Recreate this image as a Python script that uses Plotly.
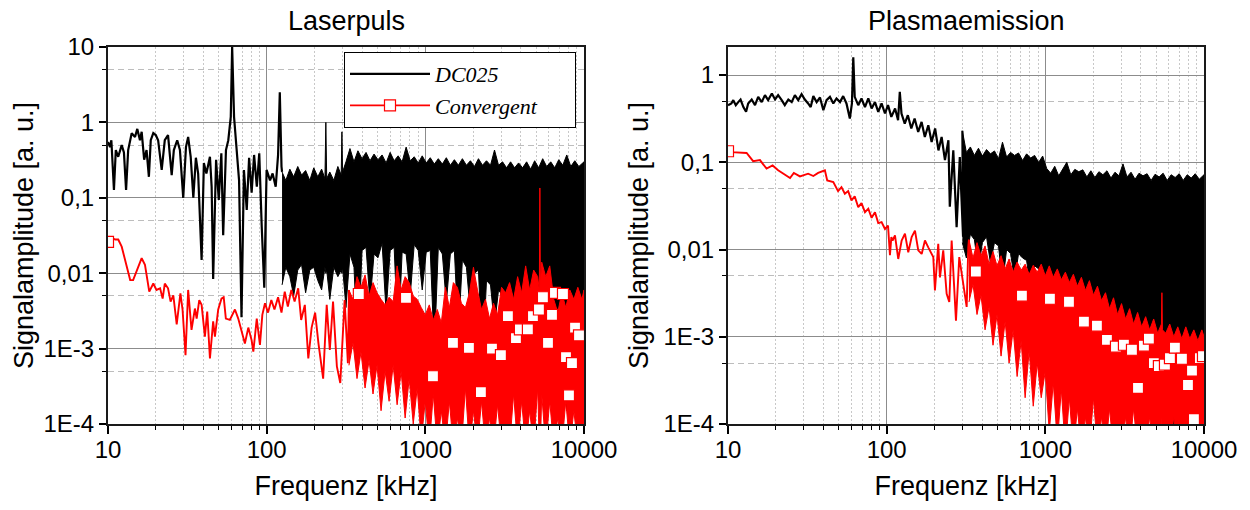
import plotly.graph_objects as go

# ---------------- Laserpuls (left) ----------------
# DC025: resolved low-frequency part of the spectrum
lp_dc_line_khz = [10, 10.3, 10.5, 10.9, 11.2, 11.6, 12.2, 12.6, 13.0, 13.4,
                  14.1, 14.8, 15.3, 15.9, 16.3, 16.9, 17.5, 18.1, 18.6, 19.3,
                  20.0, 20.7, 21.8, 22.8, 23.9, 25.2, 26.0, 27.3, 28.4, 29.8,
                  31.0, 32.0, 33.2, 34.5, 35.8, 37.0, 38.9, 40.2, 41.7, 43.9,
                  45.0, 46.0, 48.0, 49.9, 51.8, 53.2, 55.4, 57.3, 59.4, 60.6,
                  62.3, 64.5, 67.0, 69.4, 71.9, 74.9, 77.5, 80.4, 83.3, 86.7,
                  89.8, 93.1, 96.6, 99.9, 105, 109, 114, 118, 121, 124]
lp_dc_line_amp = [0.55, 0.47, 0.58, 0.127, 0.43, 0.35, 0.50, 0.40, 0.127, 0.43,
                  0.72, 0.64, 0.82, 0.58, 0.75, 0.32, 0.43, 0.19, 0.58, 0.72,
                  0.68, 0.58, 0.234, 0.58, 0.68, 0.20, 0.43, 0.58, 0.43, 0.10,
                  0.47, 0.64, 0.35, 0.10, 0.34, 0.21, 0.015, 0.29, 0.21, 0.35,
                  0.14, 0.0084, 0.32, 0.094, 0.39, 0.032, 0.43, 0.58, 1.18, 10,
                  1.18, 0.47, 0.17, 0.0026, 0.234, 0.069, 0.34, 0.117, 0.37, 0.14,
                  0.39, 0.041, 0.0064, 0.234, 0.17, 0.21, 0.14, 0.37, 2.5, 0.26]
# DC025: dense noise band (upper / lower envelope)
lp_dc_band_khz = [125, 132, 140, 148, 157, 166, 176, 187, 198, 210,
                  222, 233, 236, 239, 250, 265, 281, 295, 298, 301,
                  316, 335, 355, 376, 399, 423, 448, 475, 503, 534,
                  566, 600, 636, 674, 714, 757, 803, 851, 902, 956,
                  1013, 1074, 1139, 1207, 1280, 1356, 1438, 1524, 1615, 1712,
                  1815, 1924, 2039, 2162, 2291, 2429, 2575, 2729, 2893, 3066,
                  3250, 3445, 3652, 3871, 4103, 4349, 4610, 4887, 5180, 5491,
                  5820, 6170, 6540, 6932, 7348, 7789, 8256, 8752, 9277, 10000]
lp_dc_band_top = [0.22, 0.17, 0.24, 0.19, 0.26, 0.2, 0.23, 0.17, 0.25, 0.19,
                  0.24, 0.18, 1.0, 0.18, 0.22, 0.17, 0.26, 0.2, 0.75, 0.22,
                  0.3, 0.45, 0.3, 0.42, 0.33, 0.4, 0.31, 0.38, 0.32, 0.37,
                  0.29, 0.4, 0.31, 0.36, 0.3, 0.47, 0.31, 0.35, 0.29, 0.36,
                  0.29, 0.34, 0.28, 0.33, 0.28, 0.34, 0.27, 0.32, 0.27, 0.33,
                  0.27, 0.31, 0.26, 0.33, 0.27, 0.31, 0.27, 0.43, 0.27, 0.3,
                  0.25, 0.3, 0.25, 0.29, 0.25, 0.3, 0.24, 0.31, 0.25, 0.33,
                  0.26, 0.3, 0.25, 0.32, 0.27, 0.37, 0.26, 0.31, 0.26, 0.3]
lp_dc_band_bottom = [0.007, 0.012, 0.009, 0.005, 0.011, 0.013, 0.0055, 0.011, 0.012, 0.008,
                     0.006, 0.012, 0.01, 0.011, 0.0045, 0.012, 0.009, 0.011, 0.01, 0.012,
                     0.0035, 0.018, 0.012, 0.0009, 0.02, 0.022, 0.004, 0.018, 0.016, 0.025,
                     0.003, 0.02, 0.022, 0.0012, 0.019, 0.018, 0.005, 0.024, 0.02, 0.006,
                     0.019, 0.02, 0.0009, 0.022, 0.018, 0.004, 0.018, 0.02, 0.0015, 0.015,
                     0.012, 0.003, 0.01, 0.011, 0.0006, 0.008, 0.007, 0.002, 0.006, 0.005,
                     0.0015, 0.004, 0.0035, 0.0004, 0.0035, 0.003, 0.001, 0.0025, 0.0028, 0.0003,
                     0.0025, 0.002, 0.0006, 0.002, 0.0018, 0.00015, 0.0018, 0.0015, 0.0004, 0.0012]

# Convergent: resolved low-frequency part
lp_cv_line_khz = [10, 10.3, 10.4, 11.1, 11.6, 12.2, 13.8, 14.4, 16.3, 17.1,
                  18.2, 19.3, 20.2, 21.3, 22.1, 22.8, 23.9, 24.8, 25.8, 27.1,
                  28.6, 29.5, 30.8, 32.0, 33.6, 35.3, 36.2, 37.6, 38.9, 40.8,
                  42.2, 43.9, 46.0, 47.2, 49.5, 51.9, 53.6, 55.3, 58.6, 60.9,
                  63.1, 66.2, 69.4, 72.9, 76.6, 80.4, 82.4, 86.6, 90.7, 93.9,
                  97.6, 102, 107, 112, 118, 124, 130, 136, 143, 150,
                  158, 165, 174, 183, 192, 202, 212, 227, 239, 250,
                  262, 277, 291, 310, 325]
lp_cv_line_amp = [0.024, 0.0225, 0.030, 0.028, 0.028, 0.0225, 0.0081, 0.0081, 0.0158, 0.0129,
                  0.0057, 0.0073, 0.0060, 0.0063, 0.0046, 0.0073, 0.0063, 0.0042, 0.0051, 0.0021,
                  0.0054, 0.0033, 0.00082, 0.0060, 0.00177, 0.0034, 0.0025, 0.0044, 0.0038, 0.00144,
                  0.0031, 0.00074, 0.0023, 0.00144, 0.0033, 0.0046, 0.0048, 0.0025, 0.0024, 0.0028,
                  0.0033, 0.0025, 0.00177, 0.00117, 0.0019, 0.00129, 0.00091, 0.0025, 0.00112, 0.0028,
                  0.0040, 0.0030, 0.0044, 0.0033, 0.0048, 0.0030, 0.0057, 0.0036, 0.0060, 0.0042,
                  0.0063, 0.0024, 0.0038, 0.00074, 0.0019, 0.0030, 0.00117, 0.00040, 0.0038, 0.00096,
                  0.0042, 0.00058, 0.00035, 0.0044, 0.00064]
# Convergent: dense noise band
lp_cv_band_khz = [330, 350, 371, 393, 417, 442, 468, 496, 526, 558,
                  591, 627, 664, 704, 746, 791, 839, 889, 942, 999,
                  1059, 1122, 1190, 1261, 1337, 1417, 1502, 1592, 1688, 1789,
                  1896, 2010, 2131, 2259, 2394, 2538, 2690, 2851, 3023, 3204,
                  3396, 3600, 3816, 4045, 4288, 4545, 4818, 5107, 5230, 5270,
                  5310, 5413, 5738, 6082, 6447, 6834, 7244, 7679, 8139, 8628,
                  9145, 9694, 10000]
lp_cv_band_top = [0.006, 0.0045, 0.009, 0.0065, 0.0095, 0.005, 0.0075, 0.0055, 0.0045, 0.0038,
                  0.0048, 0.0042, 0.0125, 0.006, 0.009, 0.0075, 0.005, 0.0045, 0.0035, 0.0028,
                  0.0038, 0.0024, 0.0033, 0.0022, 0.0065, 0.0035, 0.0075, 0.0065, 0.004, 0.0035,
                  0.0055, 0.012, 0.006, 0.0033, 0.0045, 0.0025, 0.004, 0.0028, 0.0065, 0.0055,
                  0.0075, 0.0045, 0.009, 0.0055, 0.0125, 0.006, 0.011, 0.009, 0.006, 0.135,
                  0.007, 0.014, 0.009, 0.0125, 0.0045, 0.003, 0.0055, 0.0035, 0.006, 0.0045,
                  0.0065, 0.0045, 0.006]
lp_cv_band_bottom = [0.0006, 0.0012, 0.0004, 0.0009, 0.0003, 0.0007, 0.00025, 0.0006, 0.00015, 0.0005,
                     0.0002, 0.0006, 0.00018, 0.0005, 0.00012, 0.0004, 0.0001, 0.0003, 0.00006, 0.0002,
                     0.00005, 0.00025, 0.00005, 0.00015, 0.00005, 0.0002, 0.00005, 0.00012, 0.00005, 0.0003,
                     0.00005, 0.00015, 0.00005, 0.0002, 0.00005, 0.00012, 0.00005, 0.00018, 0.00005, 0.0001,
                     0.00005, 0.00025, 0.00005, 0.0002, 0.00005, 0.00015, 0.00005, 0.0003, 0.00005, 0.0001,
                     0.00005, 0.00025, 0.00005, 0.0002, 0.00005, 0.00012, 0.00005, 0.0002, 0.00005, 0.00015,
                     0.00005, 0.0001, 0.00005]
# Convergent: plotted symbols
lp_cv_sym_khz = [10, 381, 755, 1117, 1493, 1883, 2240, 2630, 2995, 3315, 3725, 3945, 4430,
                 4767, 5200, 5510, 5930, 6285, 6560, 7370, 7700, 8040, 8400, 8780, 9300]
lp_cv_sym_amp = [0.026, 0.0053, 0.0047, 0.00043, 0.00119, 0.00102, 0.000265, 0.001, 0.00082, 0.0027,
                 0.00138, 0.0018, 0.0018, 0.0027, 0.0033, 0.0048, 0.00119, 0.0028, 0.0055, 0.0053,
                 0.00077, 0.00024, 0.00064, 0.0019, 0.0015]

# ---------------- Plasmaemission (right) ----------------
pe_dc_line_khz = [10, 10.5, 10.8, 11.2, 11.6, 12.0, 12.5, 13.0, 13.4, 14.1,
                  14.8, 15.5, 16.3, 17.1, 17.9, 18.9, 19.8, 20.7, 21.8, 22.8,
                  24.0, 25.2, 26.4, 27.7, 29.1, 30.5, 32.0, 33.2, 34.5, 36.2,
                  38.0, 39.9, 41.8, 43.9, 46.1, 48.3, 50.8, 53.2, 55.8, 58.6,
                  60.4, 61.6, 62.9, 66.2, 69.4, 73.0, 76.6, 80.4, 84.4, 88.5,
                  92.9, 97.6, 102, 107, 113, 118, 121, 124, 130, 136,
                  143, 150, 158, 166, 174, 183, 192, 202, 212, 222,
                  233, 245, 250, 263, 276, 289, 303]
pe_dc_line_amp = [0.45, 0.473, 0.516, 0.452, 0.49, 0.525, 0.43, 0.38, 0.473, 0.525,
                  0.452, 0.563, 0.49, 0.589, 0.516, 0.616, 0.525, 0.589, 0.516, 0.452,
                  0.525, 0.49, 0.589, 0.516, 0.605, 0.525, 0.473, 0.43, 0.574, 0.49,
                  0.554, 0.396, 0.516, 0.563, 0.473, 0.54, 0.49, 0.574, 0.473, 0.318,
                  0.473, 1.6, 0.563, 0.452, 0.54, 0.43, 0.54, 0.414, 0.49, 0.378,
                  0.473, 0.363, 0.452, 0.332, 0.414, 0.304, 0.643, 0.363, 0.278, 0.347,
                  0.244, 0.318, 0.223, 0.29, 0.195, 0.266, 0.171, 0.244, 0.137, 0.195,
                  0.106, 0.179, 0.031, 0.137, 0.018, 0.115, 0.014]
pe_dc_band_khz = [300, 318, 337, 357, 379, 401, 426, 451, 478, 507,
                  537, 570, 604, 640, 678, 719, 762, 808, 856, 908,
                  962, 1020, 1081, 1146, 1215, 1288, 1365, 1447, 1534, 1626,
                  1723, 1827, 1936, 2053, 2176, 2306, 2445, 2591, 2747, 2912,
                  3086, 3271, 3468, 3676, 3896, 4130, 4378, 4640, 4919, 5214,
                  5527, 5858, 6210, 6582, 6977, 7396, 7840, 8310, 8809, 9337,
                  10000]
pe_dc_band_top = [0.23, 0.13, 0.15, 0.12, 0.145, 0.118, 0.14, 0.125, 0.135, 0.11,
                  0.17, 0.115, 0.13, 0.12, 0.128, 0.105, 0.125, 0.112, 0.12, 0.1,
                  0.118, 0.085, 0.075, 0.09, 0.07, 0.085, 0.1, 0.072, 0.083, 0.078,
                  0.082, 0.068, 0.08, 0.067, 0.078, 0.072, 0.08, 0.066, 0.077, 0.07,
                  0.096, 0.068, 0.077, 0.064, 0.075, 0.07, 0.074, 0.062, 0.073, 0.068,
                  0.075, 0.062, 0.072, 0.067, 0.074, 0.062, 0.072, 0.066, 0.074, 0.064,
                  0.072]
pe_dc_band_bottom = [0.012, 0.008, 0.015, 0.013, 0.006, 0.012, 0.014, 0.007, 0.012, 0.011,
                     0.004, 0.01, 0.009, 0.0045, 0.009, 0.008, 0.0075, 0.0035, 0.0065, 0.006,
                     0.006, 0.0028, 0.005, 0.0045, 0.0045, 0.002, 0.004, 0.0035, 0.0035, 0.0015,
                     0.003, 0.0028, 0.0028, 0.0009, 0.0022, 0.002, 0.0018, 0.0006, 0.0014, 0.0012,
                     0.001, 0.0003, 0.0008, 0.0007, 0.0006, 0.00015, 0.0005, 0.0004, 0.0004, 0.00008,
                     0.0003, 0.0003, 0.00025, 0.00005, 0.0002, 0.0002, 0.00015, 0.00005, 0.00012, 0.0001,
                     0.0001]

pe_cv_line_khz = [10, 10.5, 13.1, 14.4, 15.9, 17.5, 19.1, 20.7, 24.6, 26.0,
                  28.4, 32.0, 34.5, 37.0, 40.8, 42.2, 46.1, 49.4, 51.9, 54.5,
                  57.2, 60.0, 62.9, 66.2, 69.4, 73.0, 76.6, 80.4, 84.4, 88.5,
                  92.9, 97.6, 102, 104.9, 107, 109, 112.8, 118.3, 124.3, 130.4,
                  136.8, 143.7, 150.8, 158.2, 166.2, 174.3, 182.9, 196.7, 201.5, 211.4,
                  216.7, 227.3, 238.8, 248.1, 256.8, 273.4, 286.8, 303.9, 319.3, 326.8]
pe_cv_line_amp = [0.134, 0.131, 0.128, 0.103, 0.106, 0.0846, 0.092, 0.081, 0.066, 0.0755,
                  0.069, 0.074, 0.0696, 0.0755, 0.081, 0.062, 0.0595, 0.0468, 0.052, 0.0436,
                  0.0468, 0.0366, 0.0407, 0.0306, 0.0341, 0.0268, 0.0294, 0.0231, 0.0268, 0.0201,
                  0.0206, 0.0172, 0.0188, 0.0086, 0.0139, 0.0127, 0.0145, 0.0078, 0.0127, 0.0152,
                  0.0093, 0.0139, 0.0165, 0.0098, 0.0089, 0.0127, 0.0106, 0.0082, 0.0034, 0.0116,
                  0.0048, 0.0098, 0.0031, 0.0025, 0.0127, 0.00153, 0.0082, 0.0041, 0.0022, 0.0106]
pe_cv_band_khz = [330, 350, 371, 393, 417, 442, 468, 496, 526, 558,
                  591, 627, 664, 704, 746, 791, 839, 889, 942, 999,
                  1059, 1122, 1190, 1261, 1337, 1417, 1502, 1592, 1688, 1789,
                  1896, 2010, 2131, 2259, 2394, 2538, 2690, 2851, 3023, 3204,
                  3396, 3600, 3816, 4045, 4288, 4545, 4818, 5107, 5390, 5430,
                  5470, 5738, 6082, 6447, 6834, 7244, 7679, 8139, 8628, 9145,
                  9694, 10000]
pe_cv_band_top = [0.013, 0.008, 0.012, 0.0085, 0.011, 0.0068, 0.0095, 0.0065, 0.0085, 0.006,
                  0.0078, 0.0055, 0.0072, 0.0058, 0.0068, 0.0052, 0.0066, 0.0055, 0.0068, 0.005,
                  0.0065, 0.0048, 0.006, 0.0045, 0.0055, 0.0042, 0.0052, 0.0038, 0.0048, 0.0034,
                  0.0044, 0.003, 0.0038, 0.0026, 0.0032, 0.0021, 0.0028, 0.0018, 0.0024, 0.0016,
                  0.0021, 0.0014, 0.0019, 0.0013, 0.0017, 0.0012, 0.0016, 0.0011, 0.0014, 0.0032,
                  0.0012, 0.0011, 0.0014, 0.001, 0.0013, 0.00095, 0.0013, 0.00095, 0.0012, 0.0009,
                  0.0012, 0.001]
pe_cv_band_bottom = [0.0025, 0.004, 0.0018, 0.003, 0.0012, 0.0022, 0.0008, 0.0018, 0.0006, 0.0015,
                     0.0005, 0.0012, 0.00035, 0.0009, 0.0002, 0.0007, 0.00016, 0.0005, 0.0002, 0.0004,
                     0.00008, 0.0003, 0.00006, 0.00025, 0.00005, 0.0002, 0.00005, 0.00015, 0.00005, 0.00012,
                     0.00005, 0.0002, 0.00005, 0.00012, 0.00005, 0.00015, 0.00005, 0.0001, 0.00005, 0.00012,
                     0.00005, 0.00015, 0.00005, 0.0001, 0.00005, 0.00012, 0.00005, 0.0001, 0.00005, 0.00012,
                     0.00005, 0.0001, 0.00005, 0.00012, 0.00005, 0.0001, 0.00005, 0.00012, 0.00005, 0.0001,
                     0.00005, 0.0001]
pe_cv_sym_khz = [10, 365, 712, 1069, 1409, 1751, 2114, 2445, 2786, 3128, 3515, 3836, 4183,
                 4495, 4833, 5196, 5673, 6100, 6557, 7261, 7925, 8400, 8640, 9420, 9850]
pe_cv_sym_amp = [0.134, 0.0056, 0.00296, 0.00273, 0.00252, 0.00149, 0.00134, 0.00092, 0.00077,
                 0.00081, 0.00071, 0.00026, 0.00079, 0.00095, 0.0005, 0.00046, 0.00048, 0.00057,
                 0.00075, 0.00056, 0.00028, 0.00041, 0.000114, 0.00057, 0.0006]

panel_titles = ["Laserpuls", "Plasmaemission"]
series_names = ["DC025", "Convergent"]
x_tick_vals = [10, 100, 1000, 10000]
x_tick_text = ["10", "100", "1000", "10000"]
y_tick_vals = [1e-4, 1e-3, 1e-2, 1e-1, 1, 10]
y_tick_text = ["1E-4", "1E-3", "0,01", "0,1", "1", "10"]

BLACK = "#000000"
RED = "#ff0000"
SANS = "Liberation Sans, Arial, sans-serif"
SERIF = "Liberation Serif, Times New Roman, serif"
NBSP = "\u00a0"


def band_polygon(freq, top, bottom):
    return list(freq) + list(freq)[::-1], list(top) + list(bottom)[::-1]


fig = go.Figure()

panels = [
    ("x", "y", lp_dc_line_khz, lp_dc_line_amp, lp_dc_band_khz, lp_dc_band_top, lp_dc_band_bottom,
     lp_cv_line_khz, lp_cv_line_amp, lp_cv_band_khz, lp_cv_band_top, lp_cv_band_bottom,
     lp_cv_sym_khz, lp_cv_sym_amp),
    ("x2", "y2", pe_dc_line_khz, pe_dc_line_amp, pe_dc_band_khz, pe_dc_band_top, pe_dc_band_bottom,
     pe_cv_line_khz, pe_cv_line_amp, pe_cv_band_khz, pe_cv_band_top, pe_cv_band_bottom,
     pe_cv_sym_khz, pe_cv_sym_amp),
]

for i, (xa, ya, dlf, dla, dbf, dbt, dbb, clf, cla, cbf, cbt, cbb, csf, csa) in enumerate(panels):
    bx, by = band_polygon(dbf, dbt, dbb)
    fig.add_trace(go.Scatter(x=bx, y=by, xaxis=xa, yaxis=ya, mode="lines", fill="toself",
                             fillcolor=BLACK, line=dict(color=BLACK, width=1),
                             showlegend=False, hoverinfo="skip"))
    fig.add_trace(go.Scatter(x=dlf + [dbf[0]], y=dla + [dbt[0]], xaxis=xa, yaxis=ya, mode="lines",
                             line=dict(color=BLACK, width=2.2),
                             name="<i>" + series_names[0] + "</i>", showlegend=(i == 0)))
    rx, ry = band_polygon(cbf, cbt, cbb)
    fig.add_trace(go.Scatter(x=rx, y=ry, xaxis=xa, yaxis=ya, mode="lines", fill="toself",
                             fillcolor=RED, line=dict(color=RED, width=1),
                             showlegend=False, hoverinfo="skip"))
    fig.add_trace(go.Scatter(x=clf + [cbf[0]], y=cla + [cbt[0]], xaxis=xa, yaxis=ya, mode="lines",
                             line=dict(color=RED, width=1.9), showlegend=False))
    fig.add_trace(go.Scatter(x=csf, y=csa, xaxis=xa, yaxis=ya, mode="markers",
                             marker=dict(symbol="square", size=11, color="white",
                                         line=dict(color=RED, width=1.2)),
                             showlegend=False))

# legend entry for the Convergent series (line + symbol)
fig.add_trace(go.Scatter(x=[None], y=[None], mode="lines+markers",
                         name="<i>" + series_names[1] + "</i>" + NBSP * 6,
                         line=dict(color=RED, width=1.9),
                         marker=dict(symbol="square", size=11, color="white", line=dict(color=RED, width=1.2))))

W, H = 1250, 510
L, R, T, B = 108, 46, 47, 86
pw = W - L - R
ph = H - T - B


def xaxis_cfg(domain, anchor):
    return dict(type="log", range=[1, 4], domain=domain, anchor=anchor,
                tickmode="array", tickvals=x_tick_vals, ticktext=x_tick_text,
                ticks="outside", ticklen=8, tickwidth=1.5, tickcolor=BLACK,
                ticklabelstandoff=-5,
                showline=True, linecolor="#1a1a1a", linewidth=2, mirror=True,
                showgrid=True, gridcolor="#8c8c8c", gridwidth=1.3,
                minor=dict(dtick="D1", ticks="outside", ticklen=4, tickcolor=BLACK, tickwidth=1,
                           showgrid=True, gridcolor="#c8c8c8", griddash="2px,2px", gridwidth=1),
                tickfont=dict(family=SANS, size=24, color=BLACK),
                title=dict(text="Frequenz [kHz]", font=dict(family=SANS, size=27, color=BLACK), standoff=14),
                zeroline=False)


def yaxis_cfg(rng, anchor, minor_vals, standoff):
    return dict(type="log", range=rng, domain=[0, 1], anchor=anchor,
                tickmode="array", tickvals=y_tick_vals, ticktext=y_tick_text,
                ticks="outside", ticklen=7, tickwidth=1.5, tickcolor=BLACK,
                showline=True, linecolor="#1a1a1a", linewidth=2, mirror=True,
                showgrid=True, gridcolor="#8c8c8c", gridwidth=1.3,
                minor=dict(tickmode="array", tickvals=minor_vals, ticks="outside", ticklen=4,
                           tickcolor=BLACK, tickwidth=1,
                           showgrid=True, gridcolor="#bdbdbd", griddash="6px,4px", gridwidth=1),
                tickfont=dict(family=SANS, size=24, color=BLACK),
                title=dict(text="Signalamplitude [a. u.]", font=dict(family=SANS, size=27, color=BLACK),
                           standoff=standoff),
                zeroline=False)


fig.update_layout(
    width=W, height=H,
    margin=dict(l=L, r=R, t=T, b=B),
    paper_bgcolor="white", plot_bgcolor="white",
    font=dict(family=SANS, color=BLACK),
    xaxis=xaxis_cfg([0, (584 - L) / pw], "y"),
    xaxis2=xaxis_cfg([(728 - L) / pw, 1], "y2"),
    yaxis=yaxis_cfg([-4, 1], "x", [5e-4, 5e-3, 0.05, 0.5, 5], 2),
    yaxis2=yaxis_cfg([-4, 0.322], "x2", [5e-4, 5e-3, 0.05, 0.5], 7),
    legend=dict(x=(344 - L) / pw, y=1 - (52 - T) / ph, xanchor="left", yanchor="top",
                bgcolor="white", bordercolor=BLACK, borderwidth=1,
                font=dict(family=SERIF, size=22, color=BLACK),
                itemwidth=80, tracegroupgap=0),
    annotations=[
        dict(text=panel_titles[0], x=(346 - L) / pw, y=1 + (T - 21) / ph, xref="paper", yref="paper",
             xanchor="center", yanchor="middle", showarrow=False,
             font=dict(family=SANS, size=27, color=BLACK)),
        dict(text=panel_titles[1], x=(966 - L) / pw, y=1 + (T - 21) / ph, xref="paper", yref="paper",
             xanchor="center", yanchor="middle", showarrow=False,
             font=dict(family=SANS, size=27, color=BLACK)),
    ],
)

fig.write_html("out.html", config={"displayModeBar": False},
               post_script="document.body.style.margin='0';document.body.style.padding='0';")
